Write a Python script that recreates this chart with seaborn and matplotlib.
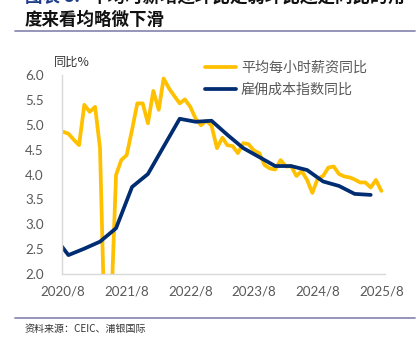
import matplotlib
matplotlib.use("Agg")
import matplotlib.pyplot as plt
import seaborn as sns
import pandas as pd
import numpy as np

# Monthly average hourly earnings YoY (%), 2020/8 - 2025/8
wage_start = "2020-08-01"
wage_yoy = [4.86, 4.82, 4.70, 4.59, 5.40, 5.26, 5.36, 4.53, 0.30, 1.00,
            3.99, 4.29, 4.39, 4.90, 5.43, 5.43, 5.03, 5.68, 5.30, 5.93,
            5.73, 5.58, 5.43, 5.51, 5.36, 5.12, 4.99, 5.08, 4.98, 4.53,
            4.74, 4.59, 4.57, 4.43, 4.63, 4.61, 4.48, 4.43, 4.19, 4.12,
            4.10, 4.29, 4.16, 4.17, 3.97, 4.07, 3.89, 3.63, 3.92, 3.97,
            4.14, 4.16, 4.01, 3.96, 3.94, 3.90, 3.84, 3.84, 3.74, 3.89,
            3.67]

# Quarterly employment cost index YoY (%), 2020/6 - 2025/6
eci_start = "2020-06-01"
eci_yoy = [2.80, 2.38, 2.51, 2.65, 2.92, 3.75, 4.01, 4.56, 5.12, 5.06,
           5.08, 4.80, 4.53, 4.35, 4.17, 4.17, 4.09, 3.86, 3.77, 3.61,
           3.59]

tick_labels = ["2020/8", "2021/8", "2022/8", "2023/8", "2024/8", "2025/8"]
series_names = ["平均每小时薪资同比", "雇佣成本指数同比"]
y_label = "同比%"
title_head = "图表 8:"
title_line1 = "平均时薪增速环比走弱环比还是同比的角"
title_line2 = "度来看均略微下滑"
source_text = "资料来源：CEIC、浦银国际"

wage_df = pd.DataFrame({
    "date": pd.date_range(wage_start, periods=len(wage_yoy), freq="MS"),
    "value": wage_yoy,
    "series": series_names[0],
})
eci_df = pd.DataFrame({
    "date": pd.date_range(eci_start, periods=len(eci_yoy), freq="3MS"),
    "value": eci_yoy,
    "series": series_names[1],
})
df = pd.concat([wage_df, eci_df], ignore_index=True)

sns.set_theme(style="white")
plt.rcParams["font.family"] = ["Noto Sans CJK SC", "DejaVu Sans"]

W, H = 419, 344
fig = plt.figure(figsize=(W / 100, H / 100), dpi=100)
ax = fig.add_axes([62 / W, 1 - 274 / H, (385 - 62) / W, (274 - 75) / H])

palette = {series_names[0]: "#FFC000", series_names[1]: "#002D72"}
sns.lineplot(data=df, x="date", y="value", hue="series", palette=palette,
             linewidth=2.7, ax=ax, legend=True)

ax.set_ylim(2.0, 6.0)
ax.set_yticks(np.arange(2.0, 6.01, 0.5))
ax.set_yticklabels([f"{v:.1f}" for v in np.arange(2.0, 6.01, 0.5)])
ax.set_xlim(pd.Timestamp("2020-07-26"), pd.Timestamp("2025-08-22"))
ax.set_xticks(pd.to_datetime([lbl.replace("/", "-") + "-01" for lbl in tick_labels]))
ax.set_xticklabels(tick_labels)
ax.set_xlabel("")
ax.set_ylabel("")

for lbl in ax.get_xticklabels() + ax.get_yticklabels():
    lbl.set_fontfamily(["Lato", "DejaVu Sans"])
    lbl.set_fontsize(9.6)
    lbl.set_color("#595959")
ax.tick_params(axis="y", length=0, pad=13)
ax.tick_params(axis="x", length=0, pad=8)

for side in ["top", "right"]:
    ax.spines[side].set_visible(False)
for side in ["left", "bottom"]:
    ax.spines[side].set_color("#d9d9d9")
    ax.spines[side].set_linewidth(1.0)

leg = ax.legend(loc="upper left", bbox_to_anchor=(205 / W, 1 - 61 / H),
                bbox_transform=fig.transFigure, frameon=False,
                fontsize=10.1, handlelength=2.2, handletextpad=0.35,
                borderpad=0, borderaxespad=0, labelspacing=0.55)
for t in leg.get_texts():
    t.set_color("#595959")
for h in leg.get_lines():
    h.set_linewidth(2.7)

fig.text(72 / W, 1 - 62 / H, y_label, ha="center", va="center",
         fontsize=8.8, color="#333333")

# Title block
fig.text(25 / W, 1 + 3 / H, title_head, ha="left", va="center",
         fontsize=12.6, fontweight="bold", color="#1F3C88")
fig.text(90 / W, 1 + 3 / H, title_line1, ha="left", va="center",
         fontsize=12.6, fontweight="bold", color="#111111")
fig.text(25 / W, 1 - 20 / H, title_line2, ha="left", va="center",
         fontsize=12.6, fontweight="bold", color="#111111")

# Rules above and below the chart
fig.add_artist(plt.Line2D([15 / W, 415 / W], [1 - 31 / H, 1 - 31 / H],
                          transform=fig.transFigure, color="#8C8CB4", linewidth=1.3))
fig.add_artist(plt.Line2D([15 / W, 415 / W], [1 - 318 / H, 1 - 318 / H],
                          transform=fig.transFigure, color="#8C8CB4", linewidth=1.3))

fig.text(25 / W, 1 - 329 / H, source_text, ha="left", va="center",
         fontsize=7.2, color="#333333")

fig.savefig("out.png", dpi=100)
